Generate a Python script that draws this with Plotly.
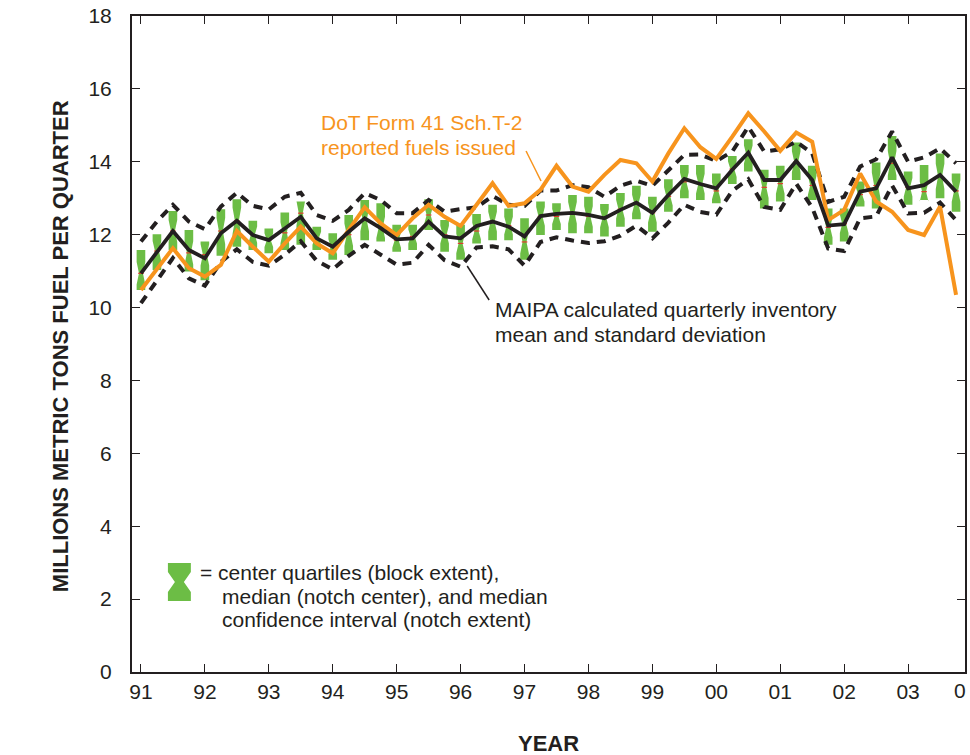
import plotly.graph_objects as go

# ---------------- data ----------------
quarters = [1991 + i / 4 for i in range(52)]

mean = [10.94, 11.50, 12.10, 11.58, 11.35, 12.04, 12.38, 11.99, 11.85, 12.17,
        12.49, 11.90, 11.67, 12.08, 12.45, 12.18, 11.87, 11.90, 12.36, 11.95,
        11.90, 12.24, 12.36, 12.22, 11.95, 12.51, 12.57, 12.60, 12.54, 12.45,
        12.68, 12.88, 12.60, 13.09, 13.53, 13.39, 13.27, 13.78, 14.25, 13.50,
        13.50, 14.02, 13.50, 12.25, 12.29, 13.18, 13.27, 14.12, 13.27, 13.36,
        13.64, 13.18]

sd_upper = [11.81, 12.36, 12.82, 12.36, 12.15, 12.77, 13.15, 12.79, 12.69, 13.04,
            13.15, 12.54, 12.38, 12.68, 13.14, 12.95, 12.59, 12.59, 12.95, 12.63,
            12.70, 12.75, 13.06, 12.82, 12.79, 13.21, 13.21, 13.36, 13.30, 13.04,
            13.34, 13.48, 13.34, 13.78, 14.19, 14.20, 14.02, 14.28, 14.96, 14.28,
            14.34, 14.55, 14.23, 12.90, 13.04, 13.87, 14.07, 14.83, 14.00, 14.12,
            14.37, 13.96]

sd_lower = [10.12, 10.75, 11.36, 10.80, 10.60, 11.25, 11.60, 11.25, 11.15, 11.45,
            11.82, 11.28, 11.05, 11.42, 11.72, 11.45, 11.18, 11.23, 11.72, 11.30,
            11.12, 11.65, 11.68, 11.60, 11.15, 11.80, 11.93, 11.84, 11.77, 11.82,
            11.97, 12.25, 11.90, 12.33, 12.82, 12.62, 12.55, 13.20, 13.52, 12.76,
            12.68, 13.40, 12.74, 11.62, 11.55, 12.45, 12.50, 13.35, 12.58, 12.60,
            12.88, 12.40]

dot_reported = [10.48, 11.05, 11.63, 11.08, 10.85, 11.17, 12.10, 11.67, 11.26, 11.76,
                12.22, 11.76, 11.49, 12.13, 12.75, 12.31, 11.99, 12.45, 12.82, 12.49,
                12.24, 12.82, 13.41, 12.79, 12.86, 13.23, 13.89, 13.32, 13.18, 13.64,
                14.05, 13.96, 13.46, 14.23, 14.92, 14.40, 14.08, 14.69, 15.33, 14.83,
                14.30, 14.80, 14.55, 12.40, 12.68, 13.68, 12.91, 12.63, 12.13, 11.99,
                12.77, 10.35]

box_q3 = [11.58, 12.01, 12.65, 12.13, 11.81, 12.70, 12.97, 12.38, 12.17, 12.61,
          12.91, 12.22, 12.04, 12.54, 12.95, 12.86, 12.27, 12.27, 12.97, 12.40,
          12.27, 12.57, 12.82, 12.72, 12.45, 12.91, 12.86, 13.09, 13.04, 12.84,
          13.14, 13.34, 13.04, 13.52, 13.91, 13.91, 13.68, 14.16, 14.62, 13.78,
          13.89, 14.53, 13.89, 12.72, 12.72, 13.46, 13.98, 14.71, 13.73, 13.91,
          14.23, 13.68]

box_q1 = [10.48, 11.03, 11.58, 10.99, 10.75, 11.42, 11.67, 11.58, 11.49, 11.58,
          11.72, 11.58, 11.31, 11.44, 11.85, 11.81, 11.53, 11.58, 12.13, 11.53,
          11.31, 11.76, 11.85, 11.85, 11.31, 11.99, 12.13, 12.04, 12.04, 11.95,
          12.22, 12.42, 12.08, 12.63, 13.00, 12.95, 12.86, 13.39, 13.73, 12.72,
          12.91, 13.50, 12.95, 11.72, 11.81, 12.77, 12.72, 13.50, 12.82, 12.95,
          13.00, 12.63]

box_median = [10.94, 11.55, 12.10, 11.50, 11.45, 12.10, 12.38, 12.00, 11.85, 12.05,
              12.59, 11.90, 11.67, 12.00, 12.40, 12.20, 11.85, 11.95, 12.54, 12.00,
              11.76, 12.10, 12.36, 12.25, 11.80, 12.50, 12.50, 12.60, 12.50, 12.45,
              12.70, 12.84, 12.60, 13.05, 13.45, 13.40, 13.20, 13.80, 14.20, 13.30,
              13.40, 14.00, 13.35, 12.20, 12.30, 13.10, 13.35, 13.96, 13.30, 13.18,
              13.60, 13.20]

# median confidence interval half-span (proportional to IQR for equal sample size)
notch_span = [0.28 * (hi - lo) for hi, lo in zip(box_q3, box_q1)]

year_ticks = list(range(1991, 2004))
year_labels = ["91", "92", "93", "94", "95", "96", "97", "98", "99",
               "00", "01", "02", "03"]

# ---------------- styling ----------------
FONT = "Liberation Sans, Arial, Helvetica, sans-serif"
INK = "#231F20"
ORANGE = "#F7941D"
GREEN = "#6CBD45"

W, H = 970, 755
ML, MR, MT, MB = 132, 3, 16, 83
PW, PH = W - ML - MR, H - MT - MB


def px(xp):
    return (xp - ML) / PW


def py(yp):
    return (H - MB - yp) / PH


fig = go.Figure()

fig.add_trace(go.Box(
    x=quarters, q1=box_q1, median=box_median, q3=box_q3,
    lowerfence=box_q1, upperfence=box_q3, notchspan=notch_span,
    notched=True, notchwidth=0.27, width=0.135, whiskerwidth=0,
    fillcolor=GREEN, line=dict(color=GREEN, width=0),
    boxpoints=False, hoverinfo="skip", showlegend=False))

fig.add_trace(go.Scatter(
    x=quarters, y=box_median, mode="markers", hoverinfo="skip",
    marker=dict(symbol="line-ew", size=4, line=dict(color="#E03A2A", width=1.2)),
    showlegend=False))

for arr in (sd_upper, sd_lower):
    fig.add_trace(go.Scatter(
        x=quarters, y=arr, mode="lines", hoverinfo="skip",
        line=dict(color=INK, width=4, dash="9px,7px"), showlegend=False))

fig.add_trace(go.Scatter(
    x=quarters, y=dot_reported, mode="lines",
    line=dict(color=ORANGE, width=4), showlegend=False))

fig.add_trace(go.Scatter(
    x=quarters, y=mean, mode="lines",
    line=dict(color=INK, width=3.8), showlegend=False))

annotations = [
    dict(text="DoT Form 41 Sch.T-2", x=px(319), y=py(123), xanchor="left",
         font=dict(color=ORANGE, size=21)),
    dict(text="reported fuels issued", x=px(319), y=py(147), xanchor="left",
         font=dict(color=ORANGE, size=21)),
    dict(text="MAIPA calculated quarterly inventory", x=px(494), y=py(310),
         xanchor="left", font=dict(color=INK, size=21)),
    dict(text="mean and standard deviation", x=px(494), y=py(334),
         xanchor="left", font=dict(color=INK, size=21)),
    dict(text="= center quartiles (block extent),", x=px(198), y=py(572),
         xanchor="left", font=dict(color=INK, size=21)),
    dict(text="median (notch center), and median", x=px(220), y=py(596),
         xanchor="left", font=dict(color=INK, size=21)),
    dict(text="confidence interval (notch extent)", x=px(220), y=py(619),
         xanchor="left", font=dict(color=INK, size=21)),
    dict(text="<b>MILLIONS METRIC TONS FUEL PER QUARTER</b>", x=px(60), y=py(346),
         textangle=-90, xanchor="center", font=dict(color=INK, size=22)),
    dict(text="<b>YEAR</b>", x=px(549), y=py(743), xanchor="center",
         font=dict(color=INK, size=22)),
    dict(text="0", x=px(962), y=py(690), xanchor="center",
         font=dict(color=INK, size=21)),
]
for a in annotations:
    a.update(xref="paper", yref="paper", showarrow=False, yanchor="middle")

glyph = [(168, 563), (191, 563), (191, 572), (184, 582), (191, 592), (191, 601),
         (168, 601), (168, 592), (175, 582), (168, 572)]
path = "M " + " L ".join(f"{px(a):.5f},{py(b):.5f}" for a, b in glyph) + " Z"

shapes = [
    dict(type="path", path=path, xref="paper", yref="paper",
         fillcolor=GREEN, line=dict(width=0)),
    dict(type="line", xref="paper", yref="paper", x0=px(527), y0=py(151),
         x1=px(542), y1=py(181), line=dict(color=ORANGE, width=1.5)),
    dict(type="line", xref="paper", yref="paper", x0=px(468), y0=py(266),
         x1=px(490), y1=py(300), line=dict(color=INK, width=1.5)),
]

fig.update_layout(
    width=W, height=H,
    margin=dict(l=ML, r=MR, t=MT, b=MB, pad=0),
    paper_bgcolor="white", plot_bgcolor="white",
    font=dict(family=FONT, color=INK, size=21),
    annotations=annotations, shapes=shapes,
    xaxis=dict(range=[1990.86, 2003.89], tickvals=year_ticks, ticktext=year_labels,
               ticks="inside", ticklen=8, tickwidth=1, tickcolor=INK,
               showline=True, linecolor=INK, linewidth=2, mirror="ticks",
               showgrid=False, zeroline=False, ticklabelstandoff=0,
               tickfont=dict(size=21, color=INK)),
    yaxis=dict(range=[0, 18], tickvals=list(range(0, 19, 2)),
               ticks="inside", ticklen=8, tickwidth=1, tickcolor=INK,
               showline=True, linecolor=INK, linewidth=2, mirror="ticks",
               showgrid=False, zeroline=False, ticklabelstandoff=14,
               tickfont=dict(size=21, color=INK)),
)

fig.write_html("out.html")
